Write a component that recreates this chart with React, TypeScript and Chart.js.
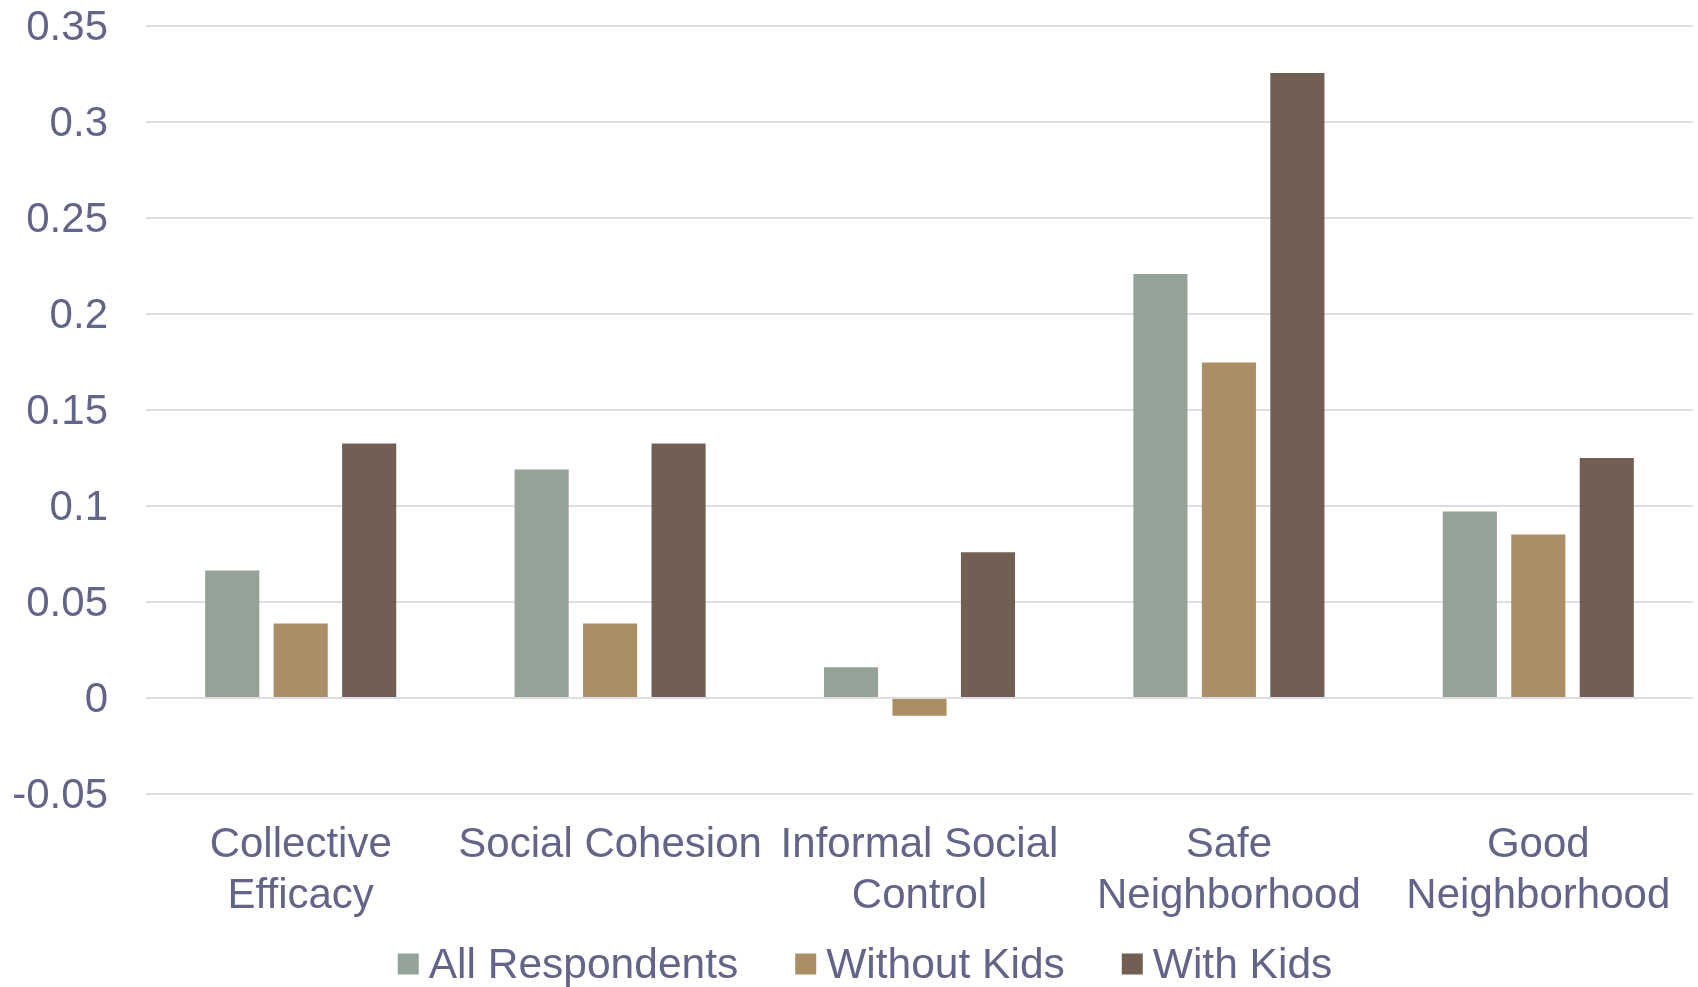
import React, { useEffect, useRef } from "react";
import { Chart, registerables } from "chart.js";

Chart.register(...registerables);

const categories: (string | string[])[] = [
  ["Collective", "Efficacy"],
  "Social Cohesion",
  ["Informal Social", "Control"],
  ["Safe", "Neighborhood"],
  ["Good", "Neighborhood"],
];

const allRespondents = [0.0664, 0.119, 0.016, 0.2208, 0.0972];
const withoutKids = [0.0388, 0.0388, -0.0092, 0.1748, 0.0851];
const withKids = [0.1325, 0.1325, 0.0759, 0.3255, 0.125];

const seriesNames = ["All Respondents", "Without Kids", "With Kids"];
const seriesColors = ["#93a397", "#ab8e66", "#725f54"];

const yTickValues = [-0.05, 0, 0.05, 0.1, 0.15, 0.2, 0.25, 0.3, 0.35];
const yTickLabels = ["-0.05", "0", "0.05", "0.1", "0.15", "0.2", "0.25", "0.3", "0.35"];

const TEXT = "#64648a";
const FONT = "'Liberation Sans', Arial, sans-serif";

const bottomLegend = {
  id: "bottomLegend",
  afterDraw(chart: any) {
    const ctx = chart.ctx as CanvasRenderingContext2D;
    const items = chart.data.datasets.map((ds: any) => ({
      text: ds.label as string,
      color: ds.backgroundColor as string,
    }));
    const box = 21;
    const boxGap = 10;
    const itemGap = 57;
    ctx.save();
    ctx.font = `42.5px ${FONT}`;
    ctx.textBaseline = "middle";
    ctx.textAlign = "left";
    const widths = items.map((it: any) => box + boxGap + ctx.measureText(it.text).width);
    const total = widths.reduce((a: number, b: number) => a + b, 0) + itemGap * (items.length - 1);
    const cx = 865;
    const cy = 964;
    let x = cx - total / 2;
    items.forEach((it: any, i: number) => {
      ctx.fillStyle = it.color;
      ctx.fillRect(x, cy - box / 2, box, box);
      ctx.fillStyle = TEXT;
      ctx.fillText(it.text, x + box + boxGap, cy + 2);
      x += widths[i] + itemGap;
    });
    ctx.restore();
  },
};

export default function App() {
  const ref = useRef<HTMLCanvasElement | null>(null);

  useEffect(() => {
    document.body.style.margin = "0";
    const canvas = ref.current;
    if (!canvas) return;
    const chart = new Chart(canvas, {
      type: "bar",
      data: {
        labels: categories,
        datasets: [allRespondents, withoutKids, withKids].map((d, i) => ({
          label: seriesNames[i],
          data: d,
          backgroundColor: seriesColors[i],
          borderWidth: 0,
          categoryPercentage: 0.664,
          barPercentage: 0.79,
        })),
      },
      options: {
        animation: false,
        responsive: false,
        maintainAspectRatio: false,
        layout: { padding: { left: 5, right: 5, top: 26, bottom: 43 } },
        plugins: {
          tooltip: { enabled: false },
          legend: { display: false },
        },
        scales: {
          x: {
            grid: { display: false, drawTicks: false },
            border: { display: false },
            ticks: {
              color: TEXT,
              padding: 26,
              maxRotation: 0,
              autoSkip: false,
              font: { family: FONT, size: 42, lineHeight: 1.21 },
            },
            afterFit: (scale: any) => {
              scale.height = 150;
              scale.paddingLeft = 0;
              scale.paddingRight = 0;
            },
          },
          y: {
            min: -0.05,
            max: 0.35,
            grid: { color: "#dedde5", lineWidth: 2, drawTicks: false },
            border: { display: false },
            afterBuildTicks: (scale: any) => {
              scale.ticks = yTickValues.map((v) => ({ value: v }));
            },
            afterFit: (scale: any) => {
              scale.width = 141;
              scale.paddingTop = 0;
              scale.paddingBottom = 0;
            },
            ticks: {
              color: TEXT,
              padding: 38,
              labelOffset: 2,
              font: { family: FONT, size: 42 },
              callback: (_v: any, i: number) => yTickLabels[i],
            },
          },
        },
      },
      plugins: [bottomLegend],
    });
    return () => chart.destroy();
  }, []);

  return (
    <div style={{ width: 1698, height: 987, background: "#ffffff" }}>
      <canvas ref={ref} width={1698} height={987} style={{ display: "block" }} />
    </div>
  );
}
